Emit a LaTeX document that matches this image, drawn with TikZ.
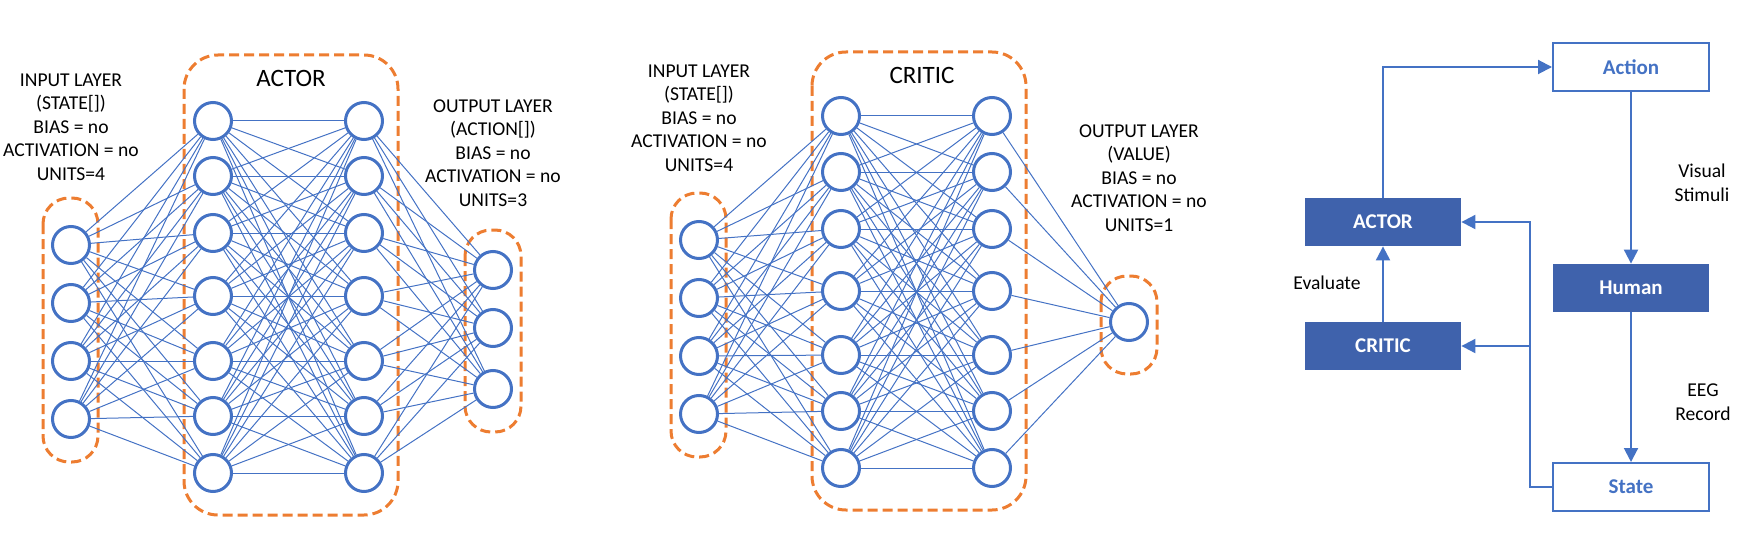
\documentclass[tikz,border=0pt]{standalone}
\usepackage{fontspec}
\setmainfont{Carlito}
\usetikzlibrary{arrows.meta}
\definecolor{nnblue}{RGB}{68,114,196}
\definecolor{boxblue}{RGB}{63,98,172}
\definecolor{nnorange}{RGB}{237,125,49}
\tikzstyle{neuron} = [circle, minimum size=18.5pt, inner sep=0pt, draw=nnblue, line width=1.5pt, fill=white]
\tikzstyle{conn} = [draw=nnblue, line width=0.5pt]
\tikzstyle{layerbox} = [draw=nnorange, line width=1.5pt, dash pattern=on 5pt off 2.5pt]
\tikzstyle{layertext} = [align=center, font=\fontsize{9.8}{11.75}\selectfont]
\tikzstyle{nettitle} = [font=\fontsize{12.5}{15}\selectfont]
\tikzstyle{tpw} = [rectangle, minimum width=78pt, minimum height=24pt, text centered, draw=nnblue, line width=1pt, fill=white, text=nnblue, font=\fontsize{10.5}{12}\selectfont\bfseries]
\tikzstyle{tpb} = [rectangle, minimum width=78pt, minimum height=24pt, text centered, fill=boxblue, text=white, font=\fontsize{10.5}{12}\selectfont\bfseries]
\tikzstyle{flowtext} = [align=center, font=\fontsize{9.8}{11.75}\selectfont]
\tikzstyle{arrow} = [draw=nnblue, line width=1pt, -{Triangle[length=7pt,width=7pt]}]

\begin{document}
\begin{tikzpicture}[x=0.5pt, y=-0.5pt]
\useasboundingbox (0,0) rectangle (1740,535);

%Actor
\draw [layerbox, rounded corners=13pt] (43,198) rectangle (98,462);
\draw [layerbox, rounded corners=17pt] (184,55) rectangle (398,515);
\draw [layerbox, rounded corners=13pt] (465,230) rectangle (521,432);
\node (actortitle) [nettitle] at (291,78) {ACTOR};
\node (actorin) [layertext] at (71,127) {INPUT LAYER\\(STATE[])\\BIAS = no\\ACTIVATION = no\\UNITS=4};
\node (actorout) [layertext] at (493,153) {OUTPUT LAYER\\(ACTION[])\\BIAS = no\\ACTIVATION = no\\UNITS=3};
\foreach \y [count=\i] in {245,303,361,419} \node (ai\i) [neuron] at (71,\y) {};
\foreach \y [count=\i] in {121,176,233,296,361,416,473} \node (ah\i) [neuron] at (213,\y) {};
\foreach \y [count=\i] in {121,176,233,296,361,416,473} \node (ag\i) [neuron] at (364,\y) {};
\foreach \y [count=\i] in {270,328,389} \node (ao\i) [neuron] at (493,\y) {};
\foreach \i in {1,...,4} \foreach \j in {1,...,7} \draw [conn] (ai\i) -- (ah\j);
\foreach \i in {1,...,7} \foreach \j in {1,...,7} \draw [conn] (ah\i) -- (ag\j);
\foreach \i in {1,...,7} \foreach \j in {1,...,3} \draw [conn] (ag\i) -- (ao\j);

%Critic
\draw [layerbox, rounded corners=13pt] (671,193) rectangle (726,457);
\draw [layerbox, rounded corners=17pt] (812,52) rectangle (1026,510);
\draw [layerbox, rounded corners=13pt] (1101,276) rectangle (1157,374);
\node (critictitle) [nettitle] at (922,75) {CRITIC};
\node (criticin) [layertext] at (699,118) {INPUT LAYER\\(STATE[])\\BIAS = no\\ACTIVATION = no\\UNITS=4};
\node (criticout) [layertext] at (1139,178) {OUTPUT LAYER\\(VALUE)\\BIAS = no\\ACTIVATION = no\\UNITS=1};
\foreach \y [count=\i] in {240,298,356,414} \node (ci\i) [neuron] at (699,\y) {};
\foreach \y [count=\i] in {116,172,229,291,355,411,468} \node (ch\i) [neuron] at (841,\y) {};
\foreach \y [count=\i] in {116,172,229,291,355,411,468} \node (cg\i) [neuron] at (992,\y) {};
\node (co1) [neuron] at (1129,322) {};
\foreach \i in {1,...,4} \foreach \j in {1,...,7} \draw [conn] (ci\i) -- (ch\j);
\foreach \i in {1,...,7} \foreach \j in {1,...,7} \draw [conn] (ch\i) -- (cg\j);
\foreach \i in {1,...,7} \draw [conn] (cg\i) -- (co1);

%Loop
\node (act) [tpw] at (1631,67) {Action};
\node (hum) [tpb, below of=act, node distance=110.5pt] {Human};
\node (sta) [tpw, below of=hum, node distance=99.5pt] {State};
\node (actf) [tpb] at (1383,222) {ACTOR};
\node (critf) [tpb, below of=actf, node distance=62pt] {CRITIC};
\coordinate (split) at (1530,346);
%labels
\node (vis) [flowtext] at (1702,183) {Visual\\Stimuli};
\node (eeg) [flowtext] at (1703,402) {EEG\\Record};
\node (eval) [flowtext] at (1327,283) {Evaluate};

%arrows
\draw [arrow] (actf.north) |- (act.west);
\draw [arrow] (act) -- (hum);
\draw [arrow] (hum) -- (sta);
\draw [arrow] (critf) -- (actf);
\draw [arrow] (sta.west) -| (split) |- (actf.east);
\draw [arrow] (split) -- (critf.east);

\end{tikzpicture}
\end{document}
